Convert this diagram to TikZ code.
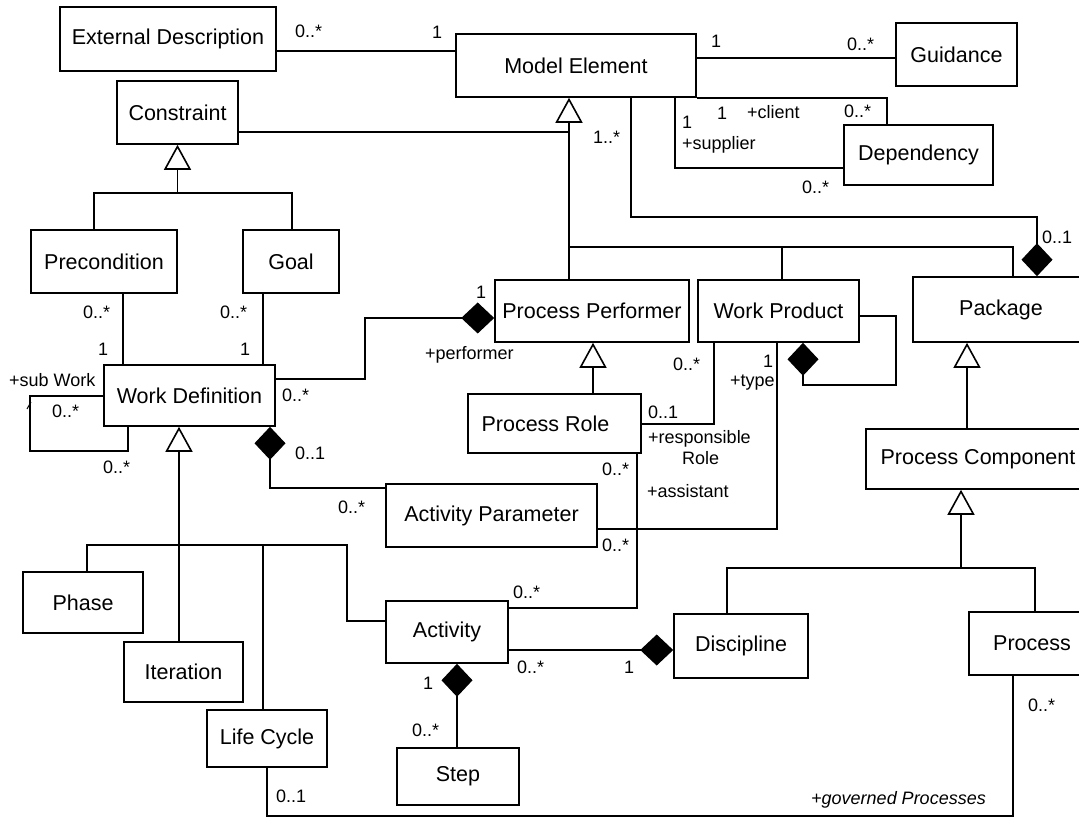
\documentclass[tikz,border=0pt]{standalone}
\usepackage{fontspec}
\setmainfont{Liberation Sans}
\usetikzlibrary{arrows.meta}
\tikzset{
  cls/.style={draw, line width=1.6pt, inner sep=0pt, font=\fontsize{21.5}{24}\selectfont},
  lbl/.style={inner sep=0pt, anchor=west, font=\fontsize{18}{20}\selectfont, text height=12.5pt, text depth=0pt},
  wire/.style={line width=1.6pt},
  gen/.style={wire, -{Triangle[open, length=25pt, width=27pt]}},
  comp/.style={wire, {Diamond[length=33pt, width=31pt]}-},
}
\begin{document}
\begin{tikzpicture}[x=1pt, y=-1pt]
\fill[white] (0,0) rectangle (1079,818);
\useasboundingbox (0,0) rectangle (1079,818);

% classes
\node[cls, minimum width=216pt, minimum height=64pt] (ED) at (168,39) {External Description};
\node[cls, minimum width=240pt, minimum height=63pt] (ME) at (576,65.5) {Model Element};
\node[cls, minimum width=121pt, minimum height=63pt] (GU) at (956.5,54.5) {Guidance};
\node[cls, minimum width=121pt, minimum height=63pt] (CO) at (177.5,112.5) {Constraint};
\node[cls, minimum width=149pt, minimum height=60pt] (DE) at (918.5,155) {Dependency};
\node[cls, minimum width=146pt, minimum height=63pt] (PR) at (104,261.5) {Precondition};
\node[cls, minimum width=96pt, minimum height=63pt] (GO) at (291,261.5) {Goal};
\node[cls, minimum width=171pt, minimum height=61pt] (WD) at (189.5,395.5) {Work Definition};
\node[cls, minimum width=194pt, minimum height=62pt] (PP) at (592,311) {Process Performer};
\node[cls, minimum width=161pt, minimum height=62pt] (WP) at (778.5,311) {Work Product};
\node[cls, minimum width=176pt, minimum height=65pt] (PK) at (1001,309.5) {Package};
\node[cls, minimum width=173pt, minimum height=59pt] (PRO) at (554.5,423.5) {Process Role\hspace*{18pt}};
\node[cls, minimum width=211pt, minimum height=63pt] (AP) at (491.5,515.5) {Activity Parameter};
\node[cls, minimum width=224pt, minimum height=60pt] (PC) at (978,459) {Process Component};
\node[cls, minimum width=120pt, minimum height=61pt] (PH) at (83,602.5) {Phase};
\node[cls, minimum width=119pt, minimum height=60pt] (IT) at (183.5,672) {Iteration};
\node[cls, minimum width=120pt, minimum height=57pt] (LC) at (267,738.5) {Life Cycle};
\node[cls, minimum width=122pt, minimum height=62pt] (AC) at (447,632) {Activity};
\node[cls, minimum width=122pt, minimum height=57pt] (ST) at (458,776.5) {Step};
\node[cls, minimum width=134pt, minimum height=64pt] (DI) at (741,646) {Discipline};
\node[cls, minimum width=126pt, minimum height=63pt] (PS) at (1032,643.5) {Process};

% associations
\draw[wire] (ED.east |- 0,51) -- (ME.west |- 0,51);
\draw[wire] (ME.east |- 0,58) -- (GU.west |- 0,58);
\draw[wire] (ME.south -| 675,0) |- (DE.west |- 0,168);
\draw[wire] (ME.south east) -| (DE.north -| 887,0);
\draw[wire] (PR.south -| 123,0) -- (WD.north -| 123,0);
\draw[wire] (GO.south -| 263,0) -- (WD.north -| 263,0);
\draw[wire] (WD.west |- 0,396) -| (30,451) -| (WD.south -| 128,0);
\draw[wire, line width=1pt] (27,409) -- (31,402);
\draw[wire] (PRO.east |- 0,424) -| (WP.south -| 714,0);
\draw[wire] (PRO.south -| 637,0) |- (AC.east |- 0,608);
\draw[wire] (AP.east |- 0,529) -| (WP.south -| 777,0);
\draw[wire] (LC.south -| 267,0) |- (1013,816) -- (PS.south -| 1013,0);

% compositions
\draw[comp] (PK.north -| 1037,0) |- (631,217) -- (ME.south -| 631,0);
\draw[comp] (PP.west |- 0,318) -| (365,379) -- (WD.east |- 0,379);
\draw[comp] (WD.south -| 270,0) |- (AP.west |- 0,488);
\draw[comp] (WP.south -| 803,0) |- (896,385) |- (WP.east |- 0,316);
\draw[comp] (DI.west |- 0,650) -- (AC.east |- 0,650);
\draw[comp] (AC.south -| 457,0) -- (ST.north -| 457,0);

% generalizations
\coordinate (jME) at (569,247);
\draw[gen] (PP.north -| 569,0) -- (ME.south -| 569,0);
\draw[wire] (CO.east |- 0,132) -- (569,132);
\draw[wire] (jME) -| (WP.north -| 782,0);
\draw[wire] (782,247) -| (PK.north -| 1013,0);
\draw[gen] (PRO.north -| 593,0) -- (PP.south -| 593,0);
\coordinate (jCO) at (177.5,193);
\draw[gen] (jCO) -- (CO.south);
\draw[wire] (PR.north -| 94,0) |- (jCO) -| (GO.north -| 292,0);
\draw[wire] (IT.north -| 179,0) -- (179,545);
\draw[gen] (179,545) -- (WD.south -| 179,0);
\draw[wire] (PH.north -| 87,0) |- (347,545) |- (AC.west |- 0,621);
\draw[wire] (LC.north -| 263,0) -- (263,545);
\draw[gen] (PC.north -| 967,0) -- (PK.south -| 967,0);
\draw[gen] (961,568) -- (PC.south -| 961,0);
\draw[wire] (DI.north -| 727,0) |- (1035,568) -- (PS.north -| 1035,0);

% role names and multiplicities
\node[lbl] (m1) at (295,31) {0..*};
\node[lbl] (m2) at (432,32) {1};
\node[lbl] (m3) at (711,41) {1};
\node[lbl] (m4) at (847,44) {0..*};
\node[lbl] (m5) at (593,137) {1..*};
\node[lbl] (m6) at (682,122) {1};
\node[lbl] (r1) at (682,143) {+supplier};
\node[lbl] (m7) at (717,113) {1};
\node[lbl] (r2) at (747,112) {+client};
\node[lbl] (m8) at (844,111) {0..*};
\node[lbl] (m9) at (802,187) {0..*};
\node[lbl] (m10) at (1042,237) {0..1};
\node[lbl] (m11) at (83,312) {0..*};
\node[lbl] (m12) at (98,349) {1};
\node[lbl] (m13) at (220,312) {0..*};
\node[lbl] (m14) at (240,349) {1};
\node[lbl] (r3) at (9,380) {+sub Work};
\node[lbl] (m15) at (52,411) {0..*};
\node[lbl] (m16) at (103,467) {0..*};
\node[lbl] (m17) at (282,395) {0..*};
\node[lbl] (m18) at (476,292) {1};
\node[lbl] (r4) at (425,353) {+performer};
\node[lbl] (m19) at (295,453) {0..1};
\node[lbl] (m20) at (338,507) {0..*};
\node[lbl] (m21) at (673,364) {0..*};
\node[lbl] (m22) at (648,412) {0..1};
\node[lbl] (r5) at (648,437) {+responsible};
\node[lbl] (r6) at (682,458) {Role};
\node[lbl] (m23) at (602,469) {0..*};
\node[lbl] (r7) at (647,491) {+assistant};
\node[lbl] (m24) at (513,592) {0..*};
\node[lbl] (m25) at (763,361) {1};
\node[lbl] (r8) at (730,380) {+type};
\node[lbl] (m26) at (602,545) {0..*};
\node[lbl] (m27) at (517,667) {0..*};
\node[lbl] (m28) at (624,667) {1};
\node[lbl] (m29) at (423,683) {1};
\node[lbl] (m30) at (412,730) {0..*};
\node[lbl] (m31) at (276,796) {0..1};
\node[lbl] (m32) at (1028,705) {0..*};
\node[lbl, font=\fontsize{18}{20}\selectfont\itshape] (r9) at (811,798) {+governed Processes};
\end{tikzpicture}
\end{document}
